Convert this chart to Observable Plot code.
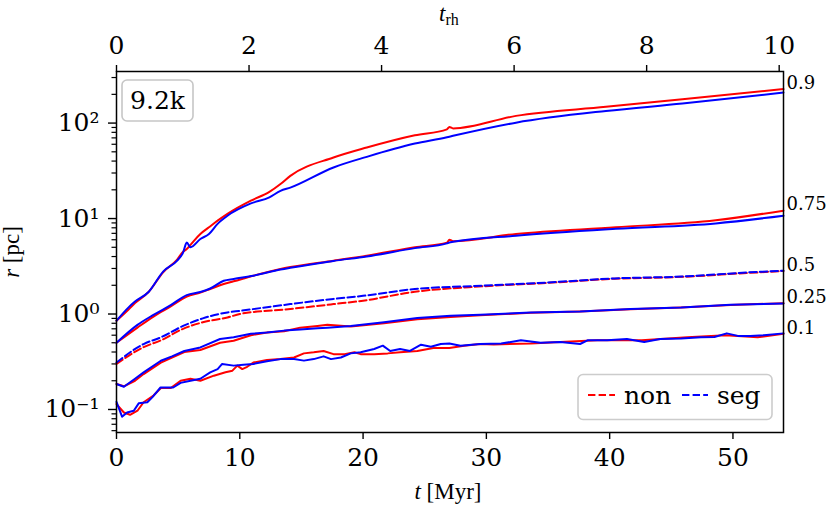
<!DOCTYPE html>
<html><head><meta charset="utf-8">
<script src="https://cdn.jsdelivr.net/npm/d3@7"></script>
<script src="https://cdn.jsdelivr.net/npm/@observablehq/plot@0.6"></script>
<style>
body{margin:0;background:#fff;}
#chart svg{font-family:"DejaVu Serif",serif;}
</style>
</head><body><div id="chart"></div>
<script>
// ---- data ----
const t90 = [0, 1.0, 1.5, 2.6, 3.8, 4.9, 5.4, 5.7, 6.0, 6.8, 7.5, 8.2, 9.0, 10.9, 12.4, 13.3, 14.1, 17.6, 20.3, 24.2, 26.8, 27.0, 27.3, 32.4, 39.7, 45.9, 54.1];
const non90 = [0.85, 1.12, 1.3, 1.7, 2.75, 3.7, 4.5, 4.8, 5.3, 6.9, 8.1, 9.5, 11.2, 15.4, 19.0, 23.0, 28.0, 43.6, 55.5, 74.6, 86, 91, 88, 119, 148, 178, 227];
const seg90 = [0.85, 1.18, 1.35, 1.7, 2.8, 3.6, 4.4, 5.6, 5.0, 6.1, 6.9, 8.8, 10.7, 14.4, 16.7, 19.5, 21.1, 34.3, 44.3, 61, 71, 72, 73.5, 101, 134, 160, 209];

const t75 = [0, 1.7, 3.0, 4.4, 5.7, 6.8, 7.6, 8.7, 9.5, 11.1, 13.3, 14.1, 17.6, 20.3, 24.2, 26.8, 27.0, 27.3, 32.4, 40.5, 48.6, 54.1];
const non75 = [0.5, 0.72, 0.94, 1.2, 1.52, 1.68, 1.83, 2.06, 2.2, 2.52, 2.96, 3.1, 3.62, 4.08, 5.0, 5.6, 6.0, 5.8, 6.9, 8.1, 9.6, 12.1];
const seg75 = [0.5, 0.77, 0.98, 1.24, 1.58, 1.7, 1.85, 2.23, 2.33, 2.52, 2.92, 3.05, 3.6, 4.0, 4.9, 5.5, 5.6, 5.7, 6.6, 7.8, 8.9, 10.7];

const t50 = [0, 2.2, 3.6, 5.4, 7.0, 9.0, 10.0, 14.1, 17.6, 20.0, 24.2, 29.7, 35.0, 40.4, 45.9, 51.3, 54.1];
const non50 = [0.30, 0.45, 0.53, 0.70, 0.82, 0.92, 1.0, 1.13, 1.27, 1.38, 1.71, 1.95, 2.12, 2.34, 2.45, 2.70, 2.82];
const seg50 = [0.31, 0.485, 0.57, 0.75, 0.9, 1.04, 1.08, 1.27, 1.44, 1.55, 1.83, 1.98, 2.14, 2.36, 2.47, 2.73, 2.84];

const t25 = [0, 0.6, 1.5, 2.2, 3.6, 4.5, 5.5, 6.8, 8.4, 9.5, 10.9, 12.2, 13.6, 14.9, 16.3, 17.1, 19.0, 21.7, 24.4, 27.1, 29.5, 33.6, 37.6, 41.7, 45.8, 49.8, 54.1];
const non25 = [0.185, 0.175, 0.2, 0.235, 0.31, 0.35, 0.40, 0.42, 0.50, 0.525, 0.60, 0.64, 0.66, 0.72, 0.75, 0.77, 0.74, 0.80, 0.88, 0.93, 0.97, 1.03, 1.06, 1.12, 1.17, 1.24, 1.30];
const seg25 = [0.185, 0.173, 0.21, 0.245, 0.324, 0.36, 0.41, 0.447, 0.547, 0.57, 0.62, 0.64, 0.67, 0.69, 0.71, 0.72, 0.75, 0.82, 0.91, 0.96, 0.98, 1.04, 1.065, 1.13, 1.17, 1.25, 1.29];

const t10n = [0, 0.6, 1.1, 1.7, 2.2, 3.0, 3.6, 4.4, 5.2, 6.0, 6.8, 7.9, 8.84, 9.4, 9.8, 10.2, 10.6, 11.1, 12.2, 13.3, 14.4, 15.2, 16.0, 16.8, 17.6, 18.5, 19.3, 19.8, 20.9, 22.0, 23.0, 24.4, 25.7, 27.0, 28.2, 29.5, 30.6, 33.6, 36.0, 39.0, 42.6, 46.3, 49.4, 52.0, 54.1];
const non10 = [0.114, 0.093, 0.088, 0.097, 0.119, 0.14, 0.168, 0.168, 0.20, 0.21, 0.20, 0.226, 0.245, 0.255, 0.288, 0.265, 0.28, 0.31, 0.33, 0.337, 0.35, 0.387, 0.397, 0.41, 0.38, 0.38, 0.397, 0.38, 0.38, 0.387, 0.397, 0.41, 0.44, 0.44, 0.465, 0.485, 0.48, 0.49, 0.51, 0.53, 0.53, 0.57, 0.60, 0.57, 0.62];
const t10s = [0, 0.45, 0.86, 1.4, 1.8, 2.5, 2.9, 3.57, 4.6, 5.2, 6.0, 6.8, 7.6, 8.2, 8.57, 9.5, 10.3, 11.1, 12.2, 13.3, 14.4, 15.2, 16.0, 16.8, 17.4, 18.2, 19.0, 19.8, 20.9, 21.6, 22.2, 23.0, 23.8, 24.7, 25.5, 26.3, 27.0, 27.9, 29.5, 31.2, 32.8, 34.4, 36.0, 37.6, 38.2, 39.8, 41.4, 42.8, 44.1, 45.8, 47.4, 48.5, 49.5, 50.4, 51.4, 52.5, 54.1];
const seg10 = [0.12, 0.084, 0.093, 0.097, 0.116, 0.119, 0.134, 0.17, 0.17, 0.19, 0.20, 0.21, 0.245, 0.265, 0.30, 0.288, 0.295, 0.30, 0.32, 0.337, 0.337, 0.325, 0.337, 0.36, 0.337, 0.35, 0.387, 0.397, 0.43, 0.466, 0.41, 0.43, 0.41, 0.477, 0.455, 0.485, 0.49, 0.465, 0.485, 0.49, 0.53, 0.50, 0.51, 0.485, 0.53, 0.53, 0.547, 0.51, 0.547, 0.555, 0.57, 0.575, 0.627, 0.59, 0.59, 0.60, 0.627];

const xTicks = [0, 10, 20, 30, 40, 50];
const trhTicks = [0, 2, 4, 6, 8, 10];
const trhFactor = 5.375; // Myr per t_rh
const yMajor = [0.1, 1, 10, 100];
const yMajorLabels = ["10\u207B\u00B9", "10\u2070", "10\u00B9", "10\u00B2"];
const yMinor = [0.06, 0.07, 0.08, 0.09, 0.2, 0.3, 0.4, 0.5, 0.6, 0.7, 0.8, 0.9, 2, 3, 4, 5, 6, 7, 8, 9, 20, 30, 40, 50, 60, 70, 80, 90, 200, 300];
const seriesNames = ["non", "seg"];
const seriesColors = ["#ff0000", "#0000ff"];
const panelLabel = "9.2k";

// ---- build tables ----
const rows = (t, v) => t.map((d, i) => ({t: d, r: v[i]}));
const groups = [
  {frac: "0.9", non: rows(t90, non90), seg: rows(t90, seg90), dashed: false, smooth: true},
  {frac: "0.75", non: rows(t75, non75), seg: rows(t75, seg75), dashed: false, smooth: true},
  {frac: "0.5", non: rows(t50, non50), seg: rows(t50, seg50), dashed: true, smooth: true},
  {frac: "0.25", non: rows(t25, non25), seg: rows(t25, seg25), dashed: false, smooth: false},
  {frac: "0.1", non: rows(t10n, non10), seg: rows(t10s, seg10), dashed: false, smooth: false}
];
const endLabels = groups.map(g => ({t: g.non[g.non.length - 1].t, r: g.non[g.non.length - 1].r, label: g.frac}));

const dash = "7.4,3.2";
const lineMarks = [];
for (const key of ["non", "seg"]) {
  const color = seriesColors[seriesNames.indexOf(key)];
  for (const g of groups) lineMarks.push(Plot.line(g[key], {
    x: "t", y: "r", stroke: color, strokeWidth: 2,
    strokeDasharray: g.dashed ? dash : null,
    curve: g.smooth ? "monotone-x" : "linear"
  }));
}

const chart = Plot.plot({
  width: 830, height: 515,
  marginLeft: 116, marginRight: 47, marginTop: 71, marginBottom: 83,
  style: {fontFamily: "DejaVu Serif", fontSize: "25px", color: "black", background: "white", overflow: "visible"},
  x: {domain: [0, 54.1]},
  y: {type: "log", domain: [0.0574, 347]},
  marks: [
    Plot.axisY(yMinor, {tickSize: 4.5, tickFormat: () => "", label: null, strokeWidth: 1.2}),
    Plot.axisY(yMajor, {tickSize: 8, tickPadding: 9, tickFormat: d => yMajorLabels[yMajor.indexOf(d)], label: null, fontSize: 25, strokeWidth: 1.4}),
    Plot.axisX(xTicks, {tickSize: 7, tickPadding: 9, label: null, fontSize: 25, strokeWidth: 1.4}),
    Plot.axisX(trhTicks.map(v => v * trhFactor), {anchor: "top", tickSize: 7, tickPadding: 11, tickFormat: d => String(Math.round(d / trhFactor)), label: null, fontSize: 25, strokeWidth: 1.4}),
    ...lineMarks,
    Plot.text(endLabels, {x: "t", y: "r", text: "label", textAnchor: "start", dx: 3, dy: -6, fontSize: 18}),
    Plot.frame({stroke: "black", strokeWidth: 1.5})
  ]
});
document.getElementById("chart").appendChild(chart);

// ---- annotations: panel label, legend, axis titles ----
const svg = d3.select(chart);
const ann = svg.append("g");
// panel label box
ann.append("rect").attr("x", 122).attr("y", 80).attr("width", 71).attr("height", 41).attr("rx", 5)
  .attr("fill", "white").attr("stroke", "#c6c6c6").attr("stroke-width", 1.6);
ann.append("text").attr("x", 157.5).attr("y", 108.5).attr("text-anchor", "middle")
  .attr("font-family", "DejaVu Serif").attr("font-size", 25).text(panelLabel);

// legend
ann.append("rect").attr("x", 578).attr("y", 374.5).attr("width", 194).attr("height", 45).attr("rx", 5)
  .attr("fill", "white").attr("fill-opacity", 0.85).attr("stroke", "#cccccc").attr("stroke-width", 1.6);
const legX = [[588, 615, 624], [682, 708, 717]];
seriesNames.forEach((name, i) => {
  ann.append("line").attr("x1", legX[i][0]).attr("x2", legX[i][1]).attr("y1", 395).attr("y2", 395)
    .attr("stroke", seriesColors[i]).attr("stroke-width", 2).attr("stroke-dasharray", dash);
  ann.append("text").attr("x", legX[i][2]).attr("y", 404).attr("text-anchor", "start")
    .attr("font-family", "DejaVu Serif").attr("font-size", 25).text(name);
});

// x title
const xt = ann.append("text").attr("x", 448).attr("y", 499).attr("text-anchor", "middle")
  .attr("font-family", "Liberation Serif").attr("font-size", 23);
xt.append("tspan").attr("font-style", "italic").text("t");
xt.append("tspan").text(" [Myr]");
// y title
const yt = ann.append("text").attr("transform", "translate(19,252) rotate(-90)").attr("text-anchor", "middle")
  .attr("font-family", "Liberation Serif").attr("font-size", 23);
yt.append("tspan").attr("font-style", "italic").text("r");
yt.append("tspan").text(" [pc]");
// top title
const tt = ann.append("text").attr("x", 439).attr("y", 21).attr("text-anchor", "start")
  .attr("font-family", "Liberation Serif").attr("font-size", 23);
tt.append("tspan").attr("font-style", "italic").text("t");
tt.append("tspan").attr("font-size", 16).attr("dy", 4).text("rh");
</script>
</body></html>
